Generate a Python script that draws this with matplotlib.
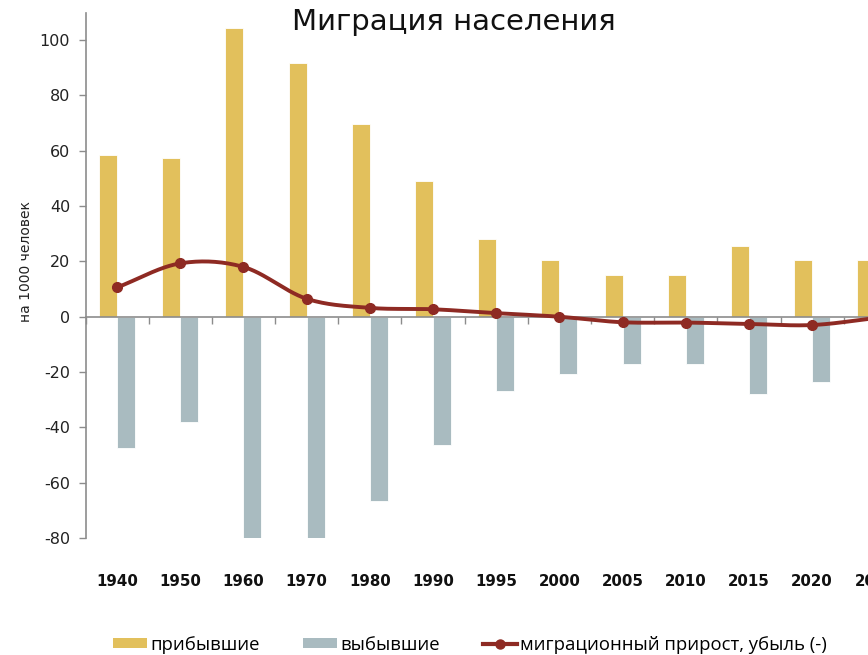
import numpy as np
import matplotlib
matplotlib.use("Agg")
import matplotlib.pyplot as plt
from matplotlib.lines import Line2D
from matplotlib.patches import Patch
import matplotlib.transforms as mtransforms

years = ["1940", "1950", "1960", "1970", "1980", "1990", "1995", "2000",
         "2005", "2010", "2015", "2020", "2022"]
arrived = [58.3, 57.5, 104.5, 91.7, 69.6, 49.0, 28.0, 20.6, 15.0, 15.0, 25.5, 20.6, 20.6]
departed = [-47.5, -38.0, -80.8, -80.8, -66.7, -46.2, -26.7, -20.8, -17.2, -17.2, -28.0, -23.7, -23.0]
net = [10.6, 19.3, 18.0, 6.5, 3.2, 2.7, 1.3, 0.0, -2.0, -2.1, -2.6, -3.0, -0.5]
y_ticks = [-80, -60, -40, -20, 0, 20, 40, 60, 80, 100]

title = "Миграция населения"
ylabel = "на 1000 человек"
legend_labels = ["прибывшие", "выбывшие", "миграционный прирост, убыль (-)"]

C_ARR = "#E2C05C"
C_DEP = "#A9BBC0"
C_NET = "#8E2A23"
C_AX = "#8C8C8C"

FONT = "DejaVu Sans"
plt.rcParams["font.family"] = [FONT]


def catmull_rom(xs, ys, n=30):
    xs = np.asarray(xs, float)
    ys = np.asarray(ys, float)
    px = np.concatenate([[2 * xs[0] - xs[1]], xs, [2 * xs[-1] - xs[-2]]])
    py = np.concatenate([[2 * ys[0] - ys[1]], ys, [2 * ys[-1] - ys[-2]]])
    ox, oy = [], []
    t = np.linspace(0, 1, n)
    for i in range(1, len(px) - 2):
        p0x, p1x, p2x, p3x = px[i - 1:i + 3]
        p0y, p1y, p2y, p3y = py[i - 1:i + 3]
        for (a0, a1, a2, a3, out) in ((p0x, p1x, p2x, p3x, ox), (p0y, p1y, p2y, p3y, oy)):
            out.extend(0.5 * ((2 * a1) + (-a0 + a2) * t +
                              (2 * a0 - 5 * a1 + 4 * a2 - a3) * t ** 2 +
                              (-a0 + 3 * a1 - 3 * a2 + a3) * t ** 3))
    return np.array(ox), np.array(oy)


fig = plt.figure(figsize=(8.68, 6.55), dpi=100)
W, H = 868, 655
ax_left, ax_right, ax_top, ax_bottom = 85.5, 907, 12.5, 538
ax = fig.add_axes([ax_left / W, 1 - ax_bottom / H, (ax_right - ax_left) / W,
                   (ax_bottom - ax_top) / H])

x = np.arange(len(years))
bw = 0.285
ax.bar(x - bw / 2, arrived, width=bw, color=C_ARR, edgecolor="white", linewidth=0.6, zorder=2)
ax.bar(x + bw / 2, departed, width=bw, color=C_DEP, edgecolor="white", linewidth=0.6, zorder=2)

sx, sy = catmull_rom(x, net)
ax.plot(sx, sy, color=C_NET, lw=2.8, solid_capstyle="round", zorder=4)
ax.plot(x, net, "o", color=C_NET, ms=7, zorder=5)

ax.set_xlim(-0.5, len(years) - 0.5)
ax.set_ylim(-80, 110)
ax.set_yticks(y_ticks)
ax.set_yticklabels([str(v) for v in y_ticks], fontsize=11.5, color="#222222")
ax.tick_params(axis="y", direction="out", length=5, width=1, color=C_AX, pad=6)

for s in ("top", "right"):
    ax.spines[s].set_visible(False)
ax.spines["left"].set_color(C_AX)
ax.spines["left"].set_linewidth(1.2)
ax.spines["bottom"].set_position(("data", 0))
ax.spines["bottom"].set_color(C_AX)
ax.spines["bottom"].set_linewidth(1.2)
ax.set_xticks(np.arange(-0.5, len(years), 1.0))
ax.set_xticklabels([])
ax.tick_params(axis="x", direction="out", length=5, width=1, color=C_AX)

trans = mtransforms.blended_transform_factory(ax.transData, fig.transFigure)
for xi, lab in zip(x, years):
    ax.text(xi, 1 - 582 / H, lab, transform=trans, ha="center", va="center",
            fontsize=10.8, fontweight="bold", color="#111111", clip_on=False)

ax.set_ylabel(ylabel, fontsize=10, color="#222222")
ax.yaxis.set_label_coords(33 / W, 1 - 261 / H, transform=fig.transFigure)

fig.text(454 / W, 1 - 22 / H, title, ha="center", va="center", fontsize=21, color="#111111")

handles = [Patch(facecolor=C_ARR, edgecolor="none"),
           Patch(facecolor=C_DEP, edgecolor="none"),
           Line2D([0], [0], color=C_NET, lw=3, marker="o", ms=6.5)]
fig.legend(handles, legend_labels, loc="center", bbox_to_anchor=(470 / W, 1 - 645 / H),
           ncol=3, frameon=False, handlelength=1.85, handleheight=0.45,
           handletextpad=0.2, columnspacing=2.3,
           prop={"family": "Open Sans", "size": 13.3})

fig.savefig("out.png", dpi=100)
